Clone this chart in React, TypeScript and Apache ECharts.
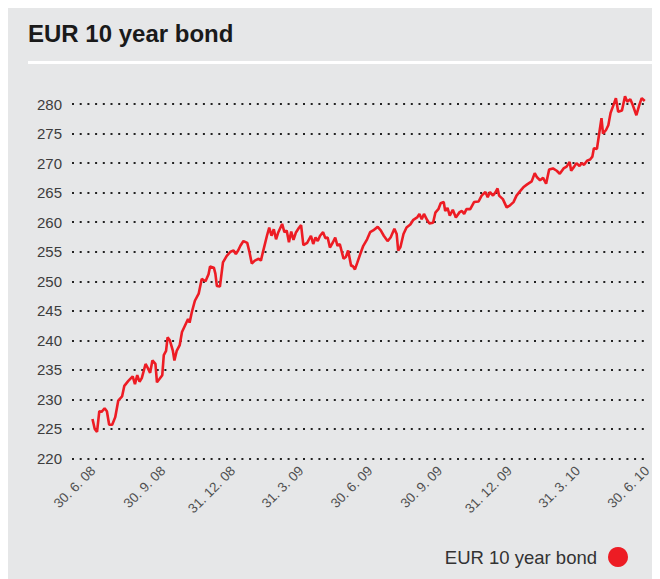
import { useEffect, useRef } from "react";
import * as echarts from "echarts";

const TITLE = "EUR 10 year bond";
const SERIES_NAME = "EUR 10 year bond";

const yMin = 220;
const yMax = 280;
const yStep = 5;

// days after 30.6.2008
const quarterDays = [0, 92, 184, 274, 365, 457, 549, 639, 730];
const quarterLabels = [
  "30. 6. 08",
  "30. 9. 08",
  "31. 12. 08",
  "31. 3. 09",
  "30. 6. 09",
  "30. 9. 09",
  "31. 12. 09",
  "31. 3. 10",
  "30. 6. 10",
];

const days = [
  -1, 2, 5, 8, 11, 15, 18, 21, 25, 29, 33, 38, 41, 46, 52, 55, 58, 61, 64, 69,
  72, 75, 78, 82, 84, 87, 91, 93, 96, 98, 101, 105, 107, 110, 114, 117, 121, 125, 127, 130,
  134, 139, 143, 148, 152, 154, 159, 161, 163, 167, 171, 176, 181, 185, 188, 191, 194, 198, 203, 206,
  209, 213, 218, 221, 224, 229, 232, 235, 238, 241, 244, 249, 252, 255, 258, 261, 264, 267, 271, 274,
  277, 282, 287, 290, 293, 296, 299, 303, 306, 309, 312, 316, 319, 322, 325, 330, 333, 336, 340, 342,
  345, 348, 352, 356, 361, 365, 369, 375, 379, 383, 388, 392, 397, 400, 402, 405, 409, 413, 418, 422,
  427, 430, 433, 436, 440, 443, 448, 451, 455, 458, 462, 464, 467, 470, 474, 478, 483, 486, 489, 492,
  497, 502, 508, 512, 517, 520, 523, 527, 530, 533, 535, 540, 545, 549, 554, 558, 563, 567, 572, 578,
  582, 585, 589, 593, 597, 601, 606, 611, 615, 620, 624, 628, 630, 634, 637, 641, 644, 647, 651, 655,
  658, 660, 664, 667, 670, 672, 676, 679, 682, 686, 689, 692, 697, 701, 704, 708, 711, 716, 720, 723,
  727,
];

const values = [
  226.7, 225.0, 224.5, 228.0, 227.9, 228.5, 228.0, 225.7, 225.7, 227.0, 229.8, 230.5, 232.3, 233.1, 233.9, 232.6, 234.1, 233.0, 233.6, 236.0,
  235.3, 234.5, 236.6, 236.0, 232.9, 233.4, 234.1, 237.5, 238.2, 240.5, 240.0, 238.2, 236.6, 238.2, 239.2, 241.4, 242.5, 243.6, 243.0, 244.8,
  246.7, 247.9, 250.4, 250.0, 251.2, 252.5, 252.3, 251.3, 249.2, 249.1, 253.2, 254.3, 255.0, 255.2, 254.6, 255.2, 256.0, 256.8, 256.5, 254.9,
  253.0, 253.5, 253.8, 253.5, 255.1, 257.7, 259.1, 257.7, 258.8, 257.1, 258.3, 259.7, 258.3, 258.6, 256.6, 258.4, 257.0, 258.2, 259.0, 259.5,
  256.1, 256.5, 257.7, 256.3, 257.4, 256.8, 257.7, 258.3, 257.3, 257.4, 255.7, 256.6, 257.4, 256.0, 256.3, 253.8, 254.1, 255.2, 252.6, 252.6,
  252.0, 253.1, 254.6, 256.0, 257.1, 258.3, 258.6, 259.2, 258.6, 257.7, 256.8, 257.4, 258.9, 258.0, 255.2, 255.8, 258.0, 259.1, 259.6, 260.4,
  260.8, 261.4, 260.5, 261.4, 260.4, 259.8, 259.9, 261.6, 262.2, 263.2, 263.4, 261.9, 262.4, 261.1, 262.1, 260.8, 261.7, 261.9, 261.4, 262.2,
  262.2, 263.4, 263.5, 264.5, 265.1, 264.2, 265.1, 264.5, 265.0, 265.7, 264.5, 263.9, 262.5, 262.8, 263.4, 264.5, 265.3, 265.9, 266.4, 266.9,
  268.3, 267.6, 267.1, 267.5, 266.5, 268.9, 269.1, 268.7, 268.2, 269.1, 269.4, 270.2, 268.7, 269.4, 270.0, 269.5, 270.0, 269.7, 270.4, 270.6,
  271.1, 272.5, 272.4, 275.0, 277.6, 275.0, 275.6, 276.4, 278.5, 279.9, 281.0, 278.7, 278.9, 281.3, 280.4, 280.8, 279.9, 278.1, 279.9, 281.0,
  280.5,
];

const FONT = '"Liberation Sans", Arial, Helvetica, sans-serif';
const RED = "#ed1c24";

export default function App() {
  const ref = useRef<HTMLDivElement>(null);

  useEffect(() => {
    if (!ref.current) return;
    const chart = echarts.init(ref.current, undefined, { renderer: "svg" });
    const data = days.map((d, i) => [d, values[i]]);
    chart.setOption({
      animation: false,
      backgroundColor: "#e6e7e8",
      textStyle: { fontFamily: FONT },
      graphic: [
        {
          type: "text",
          left: 20,
          top: 13,
          style: {
            text: TITLE,
            font: `bold 24px ${FONT}`,
            fill: "#1a1a1a",
          },
        },
        {
          type: "rect",
          shape: { x: 20, y: 53, width: 624, height: 3 },
          style: { fill: "#ffffff" },
        },
      ],
      grid: { left: 64, right: 13, top: 96, bottom: 120.5, containLabel: false },
      legend: {
        data: [{ name: SERIES_NAME, icon: "circle" }],
        right: 27,
        top: 534,
        itemWidth: 20,
        itemHeight: 20,
        align: "right",
        textStyle: { fontSize: 18.5, color: "#333333", fontFamily: FONT, padding: [0, 6, 0, 0] },
      },
      xAxis: {
        type: "value",
        min: -28,
        max: 730,
        axisLine: { show: false },
        axisTick: { show: false },
        splitLine: { show: false },
        axisLabel: {
          customValues: quarterDays,
          formatter: (v: number) => {
            const i = quarterDays.indexOf(Math.round(v));
            return i >= 0 ? quarterLabels[i] : "";
          },
          rotate: 45,
          fontSize: 13.5,
          color: "#505050",
          fontFamily: FONT,
          margin: 10,
        },
      },
      yAxis: {
        type: "value",
        min: yMin,
        max: yMax,
        interval: yStep,
        axisLine: { show: false },
        axisTick: { show: false },
        axisLabel: { fontSize: 15, color: "#3d3d3d", fontFamily: FONT, margin: 10 },
        splitLine: {
          show: true,
          lineStyle: { color: "#222222", width: 2, type: [2, 5.7] },
        },
      },
      series: [
        {
          name: SERIES_NAME,
          type: "line",
          data,
          clip: false,
          showSymbol: false,
          symbol: "circle",
          lineStyle: { color: RED, width: 2.6 },
          itemStyle: { color: RED },
        },
      ],
    });
    return () => chart.dispose();
  }, []);

  return (
    <div
      ref={ref}
      style={{ width: 652, height: 571, background: "#e6e7e8" }}
    />
  );
}
